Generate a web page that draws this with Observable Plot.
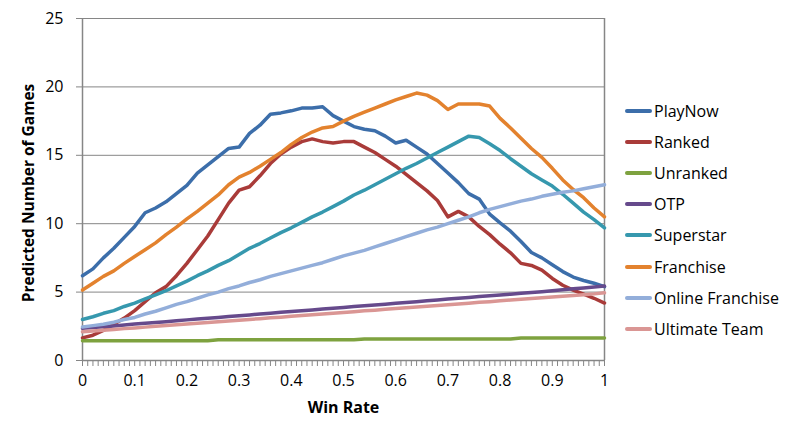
<!DOCTYPE html>
<html>
<head>
<meta charset="utf-8">
<script src="https://cdn.jsdelivr.net/npm/d3@7"></script>
<script src="https://cdn.jsdelivr.net/npm/@observablehq/plot@0.6"></script>
<style>
  html, body { margin: 0; padding: 0; background: #fff; }
  #wrap { position: relative; width: 800px; height: 440px; font-family: "Open Sans", Lato, sans-serif; }
  #legend { position: absolute; left: 625px; top: 95px; }
  .row { display: flex; align-items: center; height: 31.2px; font-size: 16px; color: #000; }
  .sw { width: 27px; height: 4px; border-radius: 2px; margin-right: 2px; }
  #ytitle { position: absolute; left: 28px; top: 193px; transform: translate(-50%, -50%) rotate(-90deg);
    white-space: nowrap; font-weight: bold; font-size: 15.5px; color: #000; }
</style>
</head>
<body>
<div id="wrap"></div>
<script>
const winRate = [0,0.02,0.04,0.06,0.08,0.1,0.12,0.14,0.16,0.18,
  0.2,0.22,0.24,0.26,0.28,0.3,0.32,0.34,0.36,0.38,
  0.4,0.42,0.44,0.46,0.48,0.5,0.52,0.54,0.56,0.58,
  0.6,0.62,0.64,0.66,0.68,0.7,0.72,0.74,0.76,0.78,
  0.8,0.82,0.84,0.86,0.88,0.9,0.92,0.94,0.96,0.98,1];

const playNow = [6.2,6.7,7.5,8.2,9.0,9.8,10.8,11.15,11.6,12.2,
  12.8,13.7,14.3,14.9,15.5,15.6,16.6,17.2,18.0,18.1,
  18.25,18.45,18.45,18.55,17.9,17.5,17.1,16.9,16.8,16.4,
  15.9,16.1,15.6,15.1,14.4,13.7,13.0,12.2,11.8,10.7,
  10.06,9.45,8.7,7.9,7.5,7.0,6.5,6.1,5.85,5.65,5.4];

const ranked = [1.65,1.85,2.2,2.65,3.1,3.65,4.3,4.95,5.4,6.2,
  7.1,8.1,9.1,10.3,11.5,12.45,12.7,13.5,14.4,15.1,
  15.6,16.0,16.2,16.0,15.9,16.0,16.0,15.6,15.2,14.7,
  14.2,13.6,13.0,12.4,11.7,10.5,10.9,10.5,9.8,9.2,
  8.5,7.87,7.1,6.95,6.6,6.0,5.5,5.15,4.85,4.55,4.2];

const unranked = [1.45,1.45,1.45,1.45,1.45,1.45,1.45,1.45,1.45,1.45,
  1.45,1.45,1.45,1.52,1.52,1.52,1.52,1.52,1.52,1.52,
  1.52,1.52,1.52,1.52,1.52,1.52,1.52,1.58,1.58,1.58,
  1.58,1.58,1.58,1.58,1.58,1.58,1.58,1.58,1.58,1.58,
  1.58,1.58,1.65,1.65,1.65,1.65,1.65,1.65,1.65,1.65,1.65];

const otp = [2.35,2.41,2.47,2.53,2.6,2.66,2.72,2.78,2.84,2.9,
  2.97,3.03,3.09,3.15,3.21,3.27,3.33,3.4,3.46,3.52,
  3.58,3.64,3.7,3.76,3.82,3.88,3.94,4.0,4.06,4.12,
  4.18,4.24,4.3,4.37,4.43,4.49,4.55,4.61,4.67,4.73,
  4.79,4.85,4.91,4.97,5.03,5.1,5.17,5.24,5.3,5.37,5.44];

const superstar = [3.0,3.2,3.45,3.65,3.95,4.2,4.5,4.8,5.1,5.45,
  5.8,6.2,6.55,6.95,7.3,7.75,8.2,8.55,8.95,9.35,
  9.7,10.1,10.5,10.85,11.25,11.65,12.1,12.45,12.85,13.25,
  13.65,14.05,14.4,14.8,15.2,15.6,16.0,16.4,16.3,15.85,
  15.35,14.75,14.2,13.65,13.2,12.75,12.15,11.5,10.85,10.3,9.7];

const franchise = [5.15,5.65,6.15,6.55,7.1,7.6,8.1,8.6,9.2,9.75,
  10.35,10.9,11.5,12.1,12.85,13.4,13.75,14.2,14.7,15.2,
  15.8,16.3,16.7,17.0,17.1,17.5,17.85,18.15,18.45,18.75,
  19.05,19.3,19.55,19.4,19.0,18.35,18.75,18.75,18.75,18.6,
  17.7,17.0,16.25,15.5,14.85,14.05,13.2,12.5,11.9,11.15,10.5];

const onlineFranchise = [2.45,2.55,2.65,2.8,3.0,3.15,3.4,3.6,3.85,4.1,
  4.3,4.55,4.8,5.0,5.25,5.45,5.7,5.9,6.15,6.35,
  6.55,6.75,6.95,7.15,7.4,7.65,7.85,8.05,8.3,8.55,
  8.8,9.05,9.3,9.55,9.75,10.0,10.25,10.5,10.8,11.05,
  11.25,11.45,11.65,11.8,12.0,12.15,12.3,12.4,12.55,12.7,12.85];

const ultimateTeam = [2.1,2.16,2.21,2.27,2.33,2.38,2.44,2.5,2.55,2.61,
  2.67,2.72,2.78,2.84,2.89,2.95,3.0,3.06,3.12,3.17,
  3.23,3.29,3.34,3.4,3.46,3.51,3.57,3.63,3.68,3.74,
  3.8,3.85,3.91,3.97,4.02,4.08,4.13,4.19,4.25,4.3,
  4.36,4.42,4.47,4.53,4.59,4.64,4.7,4.76,4.81,4.87,4.95];

const seriesNames = ["PlayNow","Ranked","Unranked","OTP","Superstar","Franchise","Online Franchise","Ultimate Team"];
const seriesValues = [playNow, ranked, unranked, otp, superstar, franchise, onlineFranchise, ultimateTeam];
const seriesColors = ["#3C6EAA","#A93B39","#7EA23F","#664A8C","#3698AE","#E3822E","#93AEDA","#DA9694"];

const xTickValues = [0,0.1,0.2,0.3,0.4,0.5,0.6,0.7,0.8,0.9,1];
const xTickLabels = ["0","0.1","0.2","0.3","0.4","0.5","0.6","0.7","0.8","0.9","1"];
const xMinorTicks = d3.range(0, 101).map(i => i / 100);
const yTickValues = [0,5,10,15,20,25];
const xTitle = "Win Rate";
const yTitle = "Predicted Number of Games";

const rows = [];
seriesNames.forEach((name, s) => {
  seriesValues[s].forEach((v, i) => rows.push({series: name, x: winRate[i], y: v}));
});

const grid = "#868686";
const chart = Plot.plot({
  width: 800,
  height: 440,
  marginLeft: 82,
  marginRight: 196,
  marginTop: 18,
  marginBottom: 80,
  style: {fontFamily: "'Open Sans', Lato, sans-serif", background: "#fff", color: "#000"},
  x: {domain: [0, 1]},
  y: {domain: [0, 25]},
  color: {domain: seriesNames, range: seriesColors},
  marks: [
    Plot.ruleY(yTickValues.slice(1), {stroke: grid, strokeWidth: 1}),
    Plot.ruleX([1], {stroke: grid, strokeWidth: 1.5}),
    Plot.ruleX([0], {stroke: grid, strokeWidth: 1.5}),
    Plot.ruleY([0], {stroke: grid, strokeWidth: 1.5}),
    Plot.axisY({ticks: yTickValues, tickSize: 6, tickPadding: 13, stroke: grid, fill: "#000", fontSize: 16, label: null}),
    Plot.axisX({ticks: xMinorTicks, tickSize: 6, text: null, stroke: grid, label: null}),
    Plot.axisX({ticks: xTickValues, tickSize: 0, tickPadding: 14, fontSize: 16, fill: "#000",
      tickFormat: d => xTickLabels[xTickValues.indexOf(d)], label: null}),
    Plot.lineY(rows, {x: "x", y: "y", z: "series", stroke: "series", strokeWidth: 3.5,
      strokeLinejoin: "round", strokeLinecap: "round"}),
    Plot.text([xTitle], {frameAnchor: "bottom", dy: 52, fontWeight: "bold", fontSize: 16, fill: "#000"})
  ]
});

const wrap = document.getElementById("wrap");
wrap.appendChild(chart);
const yt = document.createElement("div");
yt.id = "ytitle";
yt.textContent = yTitle;
wrap.appendChild(yt);
const legend = document.createElement("div");
legend.id = "legend";
seriesNames.forEach((name, i) => {
  const row = document.createElement("div");
  row.className = "row";
  const sw = document.createElement("div");
  sw.className = "sw";
  sw.style.background = seriesColors[i];
  const label = document.createElement("span");
  label.textContent = name;
  row.appendChild(sw);
  row.appendChild(label);
  legend.appendChild(row);
});
wrap.appendChild(legend);
</script>
</body>
</html>
